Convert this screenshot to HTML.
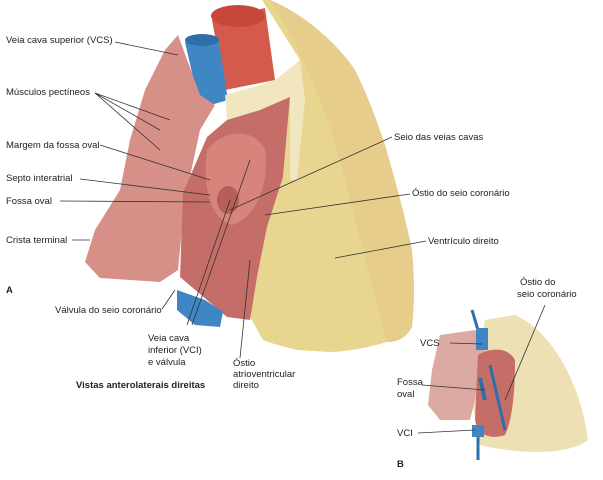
<!DOCTYPE html>
<html><head><meta charset="utf-8"><style>
html,body{margin:0;padding:0;background:#fff;}
svg{display:block;}
text{font-family:"Liberation Sans",sans-serif;font-size:9.5px;fill:#222;}
</style></head><body>
<svg width="603" height="480" viewBox="0 0 603 480" xmlns="http://www.w3.org/2000/svg">
<rect width="603" height="480" fill="#fff"/>
<!-- yellow ventricle -->
<path d="M262,0 L270,0 C300,12 335,40 355,70 C370,100 380,130 385,145 C395,180 405,215 412,250 C415,280 414,310 412,327 C405,340 395,342 387,342 C360,350 340,352 330,352 L297,350 C280,346 268,342 263,340 L250,317 L257,277 L267,227 L283,177 L290,97 L300,60 Z" fill="#e8d690"/>
<path d="M270,0 C300,12 335,40 355,70 C370,100 380,130 385,145 C395,180 405,215 412,250 C415,280 414,310 412,327 C405,340 395,342 387,342 C375,300 355,220 340,160 C320,90 295,40 270,0Z" fill="#e2b27e" opacity="0.25"/>
<!-- aorta -->
<path d="M212,20 L265,8 L275,80 L225,90 Z" fill="#d45a4c"/>
<ellipse cx="238" cy="16" rx="27" ry="11" fill="#c8473b"/>
<!-- SVC -->
<path d="M185,42 L218,36 L228,100 L200,108 Z" fill="#3f86c4"/>
<ellipse cx="202" cy="40" rx="17" ry="6" fill="#2f6ea8"/>
<!-- atrium muscle -->
<path d="M178,35 L200,95 L215,105 L200,130 L185,200 L178,270 L160,282 L100,278 L85,262 L95,230 L120,190 L130,140 L145,90 L165,50 Z" fill="#d79088"/>
<!-- pale rim -->
<path d="M225,95 L260,85 L275,80 L300,60 L305,100 L297,180 L290,180 L290,97 L260,110 L227,120 Z" fill="#f1e6c0"/>
<!-- cavity -->
<path d="M227,120 L260,110 L290,97 L283,177 L267,227 L257,277 L250,320 L227,317 L180,277 L183,193 L207,137 Z" fill="#c56d68"/>
<path d="M207,150 C225,128 255,128 265,150 C270,190 252,220 232,225 C212,220 202,190 207,150Z" fill="#d7847c"/>
<ellipse cx="228" cy="200" rx="11" ry="14" fill="#b85e5a"/>
<!-- IVC -->
<path d="M177,290 L205,300 L223,312 L220,327 L195,325 L177,310 Z" fill="#3f86c4"/>
<!-- Small heart B -->
<path d="M485,320 L515,315 C550,330 580,380 588,440 C570,455 520,455 480,445 L472,400 Z" fill="#ece0b4"/>
<path d="M440,335 L475,330 L485,350 L475,400 L470,420 L440,420 L428,405 L432,370 Z" fill="#dcaaa2"/>
<path d="M478,355 C495,345 510,350 515,360 C515,395 512,420 505,435 C490,440 478,435 475,420 Z" fill="#c56d68"/>
<path d="M472,310 L478,330 L486,340" stroke="#2f6ea8" stroke-width="3" fill="none"/>
<rect x="476" y="328" width="12" height="22" fill="#3f86c4"/>
<path d="M490,365 L505,430" stroke="#2f6ea8" stroke-width="3"/>
<rect x="472" y="425" width="12" height="12" fill="#3f86c4"/>
<path d="M478,437 L478,460" stroke="#2f6ea8" stroke-width="3"/>
<path d="M480,378 L485,400" stroke="#2f6ea8" stroke-width="4"/>
<!-- leader lines -->
<g stroke="#333" stroke-width="0.8" fill="none">
<line x1="115" y1="42" x2="178" y2="55"/>
<line x1="95" y1="93" x2="170" y2="120"/>
<line x1="95" y1="93" x2="160" y2="130"/>
<line x1="95" y1="93" x2="160" y2="150"/>
<line x1="100" y1="145" x2="210" y2="180"/>
<line x1="80" y1="179" x2="210" y2="195"/>
<line x1="60" y1="201" x2="210" y2="202"/>
<line x1="72" y1="240" x2="90" y2="240"/>
<line x1="162" y1="309" x2="175" y2="290"/>
<line x1="187" y1="325" x2="230" y2="200"/>
<line x1="192" y1="325" x2="250" y2="160"/>
<line x1="240" y1="358" x2="250" y2="260"/>
<line x1="392" y1="137" x2="230" y2="210"/>
<line x1="410" y1="194" x2="265" y2="215"/>
<line x1="426" y1="241" x2="335" y2="258"/>
<line x1="450" y1="343" x2="482" y2="344"/>
<line x1="422" y1="385" x2="485" y2="390"/>
<line x1="418" y1="433" x2="475" y2="430"/>
<line x1="545" y1="305" x2="505" y2="400"/>
</g>
<text x="6" y="43">Veia cava superior (VCS)</text>
<text x="6" y="95">Músculos pectíneos</text>
<text x="6" y="148">Margem da fossa oval</text>
<text x="6" y="181">Septo interatrial</text>
<text x="6" y="204">Fossa oval</text>
<text x="6" y="243">Crista terminal</text>
<text x="6" y="293" style="font-weight:bold">A</text>
<text x="55" y="313">Válvula do seio coronário</text>
<text x="148" y="341">Veia cava</text>
<text x="148" y="353">inferior (VCI)</text>
<text x="148" y="365">e válvula</text>
<text x="233" y="366">Óstio</text>
<text x="233" y="377">atrioventricular</text>
<text x="233" y="388">direito</text>
<text x="76" y="388" style="font-weight:bold">Vistas anterolaterais direitas</text>
<text x="394" y="140">Seio das veias cavas</text>
<text x="412" y="196">Óstio do seio coronário</text>
<text x="428" y="244">Ventrículo direito</text>
<text x="520" y="285">Óstio do</text>
<text x="517" y="297">seio coronário</text>
<text x="420" y="346">VCS</text>
<text x="397" y="385">Fossa</text>
<text x="397" y="397">oval</text>
<text x="397" y="436">VCI</text>
<text x="397" y="467" style="font-weight:bold">B</text>
</svg>
</body></html>
